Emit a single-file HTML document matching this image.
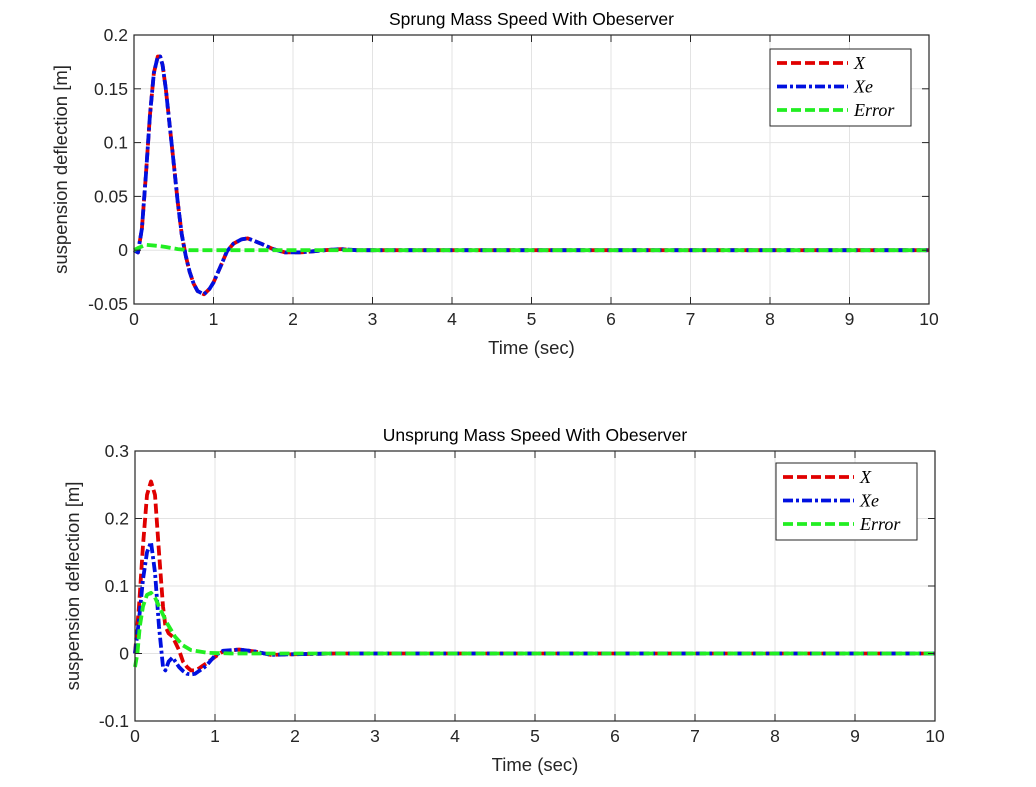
<!DOCTYPE html>
<html><head><meta charset="utf-8"><style>
html,body{margin:0;padding:0;background:#fff;}
svg{display:block;font-family:"Liberation Sans",Arial,sans-serif;}
</style></head><body>
<svg id="chart" width="1036" height="787" viewBox="0 0 1036 787"></svg>
<script>
// ---- data ----
const timeTicks = [0,1,2,3,4,5,6,7,8,9,10];
const topYTicks = [-0.05,0,0.05,0.1,0.15,0.2];
const topYLabels = ["-0.05","0","0.05","0.1","0.15","0.2"];
const botYTicks = [-0.1,0,0.1,0.2,0.3];
const botYLabels = ["-0.1","0","0.1","0.2","0.3"];

const topT = [0,0.05,0.1,0.15,0.2,0.25,0.3,0.33,0.36,0.4,0.45,0.5,0.55,0.6,0.65,0.7,0.75,0.8,0.88,0.95,1.0,1.1,1.17,1.25,1.35,1.43,1.5,1.6,1.75,1.9,2.0,2.1,2.25,2.4,2.6,2.8,3,10];
const topX = [0,-0.002,0.02,0.07,0.125,0.165,0.18,0.18,0.172,0.15,0.115,0.08,0.045,0.015,-0.005,-0.02,-0.031,-0.038,-0.041,-0.036,-0.03,-0.013,-0.001,0.006,0.01,0.011,0.009,0.006,0.001,-0.002,-0.002,-0.002,-0.001,0,0.001,0,0,0];
const topXe = topX.slice();
const topErrT = [0,0.05,0.15,0.3,0.4,0.55,0.7,1.0,10];
const topErr = [0,0.002,0.005,0.004,0.003,0.001,0,0,0];

const botT = [0,0.05,0.1,0.15,0.2,0.25,0.3,0.35,0.38,0.42,0.47,0.55,0.6,0.65,0.7,0.75,0.8,0.85,0.9,1.0,1.1,1.3,1.5,1.7,2.0,2.5,10];
const botX = [0,0.07,0.16,0.235,0.255,0.235,0.15,0.07,0.04,0.03,0.025,0.005,-0.012,-0.02,-0.025,-0.025,-0.022,-0.018,-0.014,-0.005,0.003,0.006,0.003,-0.002,-0.001,0,0];
const botXe = [0,0.05,0.11,0.15,0.165,0.12,0.04,-0.02,-0.025,-0.012,-0.006,-0.02,-0.026,-0.03,-0.031,-0.03,-0.026,-0.022,-0.017,-0.003,0.004,0.006,0.003,-0.002,-0.001,0,0];
const botErrT = [0,0.03,0.06,0.1,0.15,0.2,0.25,0.3,0.4,0.5,0.6,0.7,0.9,1.2,10];
const botErr = [-0.02,0.0,0.04,0.07,0.087,0.09,0.083,0.07,0.045,0.025,0.012,0.005,0.001,0,0];

const svg = document.getElementById('chart');
const NS = 'http://www.w3.org/2000/svg';
function mk(tag, attrs, parent){const e=document.createElementNS(NS,tag);for(const k in attrs)e.setAttribute(k,attrs[k]);(parent||svg).appendChild(e);return e;}

function drawPanel(p){
  const g = mk('g',{});
  
  
  const xs = t => p.x0 + (t - 0) / 10 * (p.x1 - p.x0);
  const ys = v => p.y1 - (v - p.ymin) / (p.ymax - p.ymin) * (p.y1 - p.y0);
  mk('rect',{x:p.x0,y:p.y0,width:p.x1-p.x0,height:p.y1-p.y0,fill:'#fff'},g);
  timeTicks.forEach(t=>{ if(t>0&&t<10){const l=mk('line',{x1:xs(t),x2:xs(t),y1:p.y0,y2:p.y1,stroke:'#e3e3e3','stroke-width':1},g);}});
  p.yt.forEach(v=>{ const l=mk('line',{x1:p.x0,x2:p.x1,y1:ys(v),y2:ys(v),stroke:'#e3e3e3','stroke-width':1},g);});
  const series=[
    {t:p.t, v:p.X, c:'#e00000', d:'10,4', n:'series-x'},
    {t:p.t, v:p.Xe, c:'#0010e0', d:'10,3,3,3', n:'series-xe'},
    {t:p.et, v:p.E, c:'#22ee22', d:'10,4', n:'series-error'}
  ];
  series.forEach(s=>{
    const pts=s.t.map((t,i)=>xs(t).toFixed(1)+','+ys(s.v[i]).toFixed(1)).join(' ');
    const pl=mk('polyline',{points:pts,fill:'none',stroke:s.c,'stroke-width':3.8,'stroke-dasharray':s.d,'stroke-linejoin':'round'},g);
    
    
  });
  mk('rect',{x:p.x0,y:p.y0,width:p.x1-p.x0,height:p.y1-p.y0,fill:'none',stroke:'#262626','stroke-width':1.2},g);
  timeTicks.forEach(t=>{
    mk('line',{x1:xs(t),x2:xs(t),y1:p.y1,y2:p.y1-7,stroke:'#262626'},g);
    mk('line',{x1:xs(t),x2:xs(t),y1:p.y0,y2:p.y0+7,stroke:'#262626'},g);
    const tx=mk('text',{x:xs(t),y:p.y1+21,'text-anchor':'middle','font-size':17.5,fill:'#262626'},g);
    tx.textContent=t;
    
    
  });
  p.yt.forEach((v,i)=>{
    mk('line',{x1:p.x0,x2:p.x0+7,y1:ys(v),y2:ys(v),stroke:'#262626'},g);
    mk('line',{x1:p.x1,x2:p.x1-7,y1:ys(v),y2:ys(v),stroke:'#262626'},g);
    const tx=mk('text',{x:p.x0-6,y:ys(v)+6,'text-anchor':'end','font-size':17.5,fill:'#262626'},g);
    tx.textContent=p.yl[i];
    
    
  });
  const ti=mk('text',{x:(p.x0+p.x1)/2,y:p.y0-10,'text-anchor':'middle','font-size':17.5,fill:'#000'},g);
  ti.textContent=p.title;
  
  
  const xl=mk('text',{x:(p.x0+p.x1)/2,y:p.y1+50,'text-anchor':'middle','font-size':18.5,fill:'#262626'},g);
  xl.textContent='Time (sec)';
  
  
  const cy=(p.y0+p.y1)/2;
  const yl=mk('text',{x:p.ylx,y:cy,'text-anchor':'middle','font-size':18.5,fill:'#262626',transform:`rotate(-90 ${p.ylx} ${cy})`},g);
  yl.textContent='suspension deflection [m]';
  
  
  const lg=mk('g',{},g);
  
  
  mk('rect',{x:p.lx,y:p.ly,width:141,height:77,fill:'#fff',stroke:'#262626','stroke-width':1},lg);
  const names=['X','Xe','Error'];
  series.forEach((s,i)=>{
    const yy=p.ly+14+i*23.5;
    mk('line',{x1:p.lx+7,x2:p.lx+78,y1:yy,y2:yy,stroke:s.c,'stroke-width':3.8,'stroke-dasharray':s.d},lg);
    const t=mk('text',{x:p.lx+84,y:yy+6,'font-size':18,'font-style':'italic','font-family':'Liberation Serif, serif',fill:'#000'},lg);
    t.textContent=names[i];
    
    
  });
}

drawPanel({name:'top-panel',x0:134,x1:929,y0:35,y1:304,ymin:-0.05,ymax:0.2,yt:topYTicks,yl:topYLabels,
  t:topT,X:topX,Xe:topXe,et:topErrT,E:topErr,title:'Sprung Mass Speed With Obeserver',ylx:67,lx:770,ly:49});
drawPanel({name:'bottom-panel',x0:135,x1:935,y0:451,y1:721,ymin:-0.1,ymax:0.3,yt:botYTicks,yl:botYLabels,
  t:botT,X:botX,Xe:botXe,et:botErrT,E:botErr,title:'Unsprung Mass Speed With Obeserver',ylx:79,lx:776,ly:463});
</script>
</body></html>
